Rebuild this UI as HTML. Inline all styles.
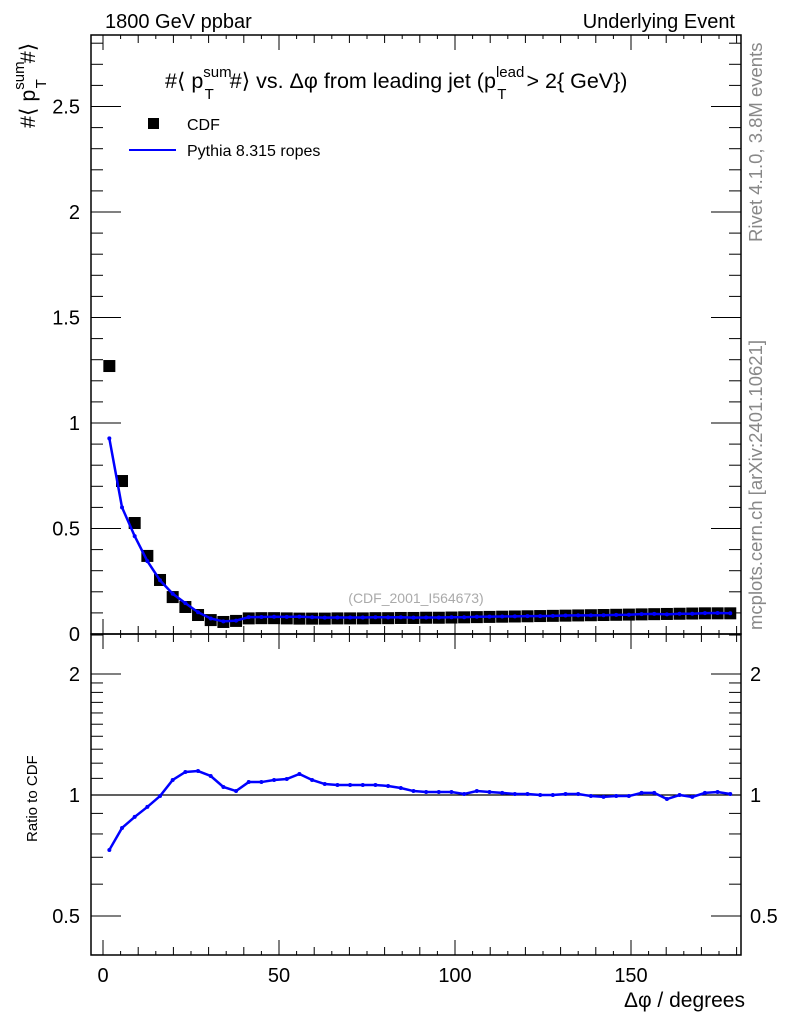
<!DOCTYPE html>
<html><head><meta charset="utf-8"><style>
body{margin:0;background:#fff}
svg{display:block;font-family:"Liberation Sans",sans-serif}
</style></head><body>
<svg id="c" width="786" height="1024" viewBox="0 0 786 1024">
<g id="axes"></g>
<g id="marks"></g>
<text x="105" y="28" font-size="20">1800 GeV ppbar</text>
<text x="735" y="28" font-size="20" text-anchor="end">Underlying Event</text>
<text x="165" y="88" font-size="21.5">#⟨ p<tspan font-size="15" dy="-11">sum</tspan><tspan font-size="15" dx="-27" dy="22">T</tspan><tspan dx="16" dy="-11">#⟩ vs. Δφ from leading jet  (p</tspan><tspan font-size="15" dy="-11">lead</tspan><tspan font-size="15" dx="-27" dy="22">T</tspan><tspan dx="20" dy="-11">&gt; 2{ GeV})</tspan></text>
<text transform="translate(35,128) rotate(-90)" font-size="21.5">#⟨ p<tspan font-size="15" dy="-11">sum</tspan><tspan font-size="15" dx="-27" dy="22">T</tspan><tspan dx="16" dy="-11">#⟩</tspan></text>
<text transform="translate(37,842) rotate(-90)" font-size="15">Ratio to CDF</text>
<text x="745" y="1007" font-size="21" text-anchor="end">Δφ / degrees</text>
<text transform="translate(762,242) rotate(-90)" font-size="18.5" fill="#888">Rivet 4.1.0,  3.8M events</text>
<text transform="translate(762,630) rotate(-90)" font-size="18.5" fill="#888">mcplots.cern.ch [arXiv:2401.10621]</text>
<text x="416" y="603" font-size="14" fill="#aaa" text-anchor="middle">(CDF_2001_I564673)</text>
<rect x="148" y="118" width="11" height="11" fill="#000"/>
<text x="187" y="130" font-size="16">CDF</text>
<line x1="129" y1="150" x2="176" y2="150" stroke="#00f" stroke-width="2"/>
<text x="187" y="156" font-size="16">Pythia 8.315 ropes</text>
</svg>
<script>
const xCenters = [];
for (let i = 0; i < 50; i++) xCenters.push(1.8 + 3.6 * i);
const cdfValues = [1.27,0.725,0.526,0.37,0.256,0.175,0.128,0.09,0.066,0.057,0.062,0.074,0.075,0.075,0.074,0.073,0.073,0.073,0.074,0.074,0.074,0.075,0.075,0.076,0.076,0.077,0.077,0.078,0.079,0.08,0.081,0.082,0.083,0.084,0.085,0.086,0.087,0.088,0.089,0.09,0.091,0.092,0.093,0.094,0.095,0.096,0.097,0.098,0.098,0.098];
const ratioYpix = [850,828,817,807,796,780,772,771,776,787,791,782,782,780,779,774,780,784,785,785,785,785,786,788,791,792,792,792,794,791,792,793,794,794,795,795,794,794,796,797,796,796,793,793,799,795,797,793,792,794];
const ratioValues = ratioYpix.map(y => +Math.pow(2,(795-y)/121).toFixed(3));
const mainYTicks = ["0","0.5","1","1.5","2","2.5"];
const ratioYTicks = ["0.5","1","2"];
const xTicks = ["0","50","100","150"];

const L=91,R=741,T=35,M=634,B=955;
const xs = v => 103 + v*3.52;
const ym = v => 634 - v*211;
const yr = v => 795 - 121*Math.log2(v);
const NS="http://www.w3.org/2000/svg";
const ax=document.getElementById('axes'), mk=document.getElementById('marks');
function el(tag,attrs,parent){const e=document.createElementNS(NS,tag);for(const k in attrs)e.setAttribute(k,attrs[k]);parent.appendChild(e);return e;}
function ln(x1,y1,x2,y2,p,w){return el('line',{x1,y1,x2,y2,stroke:'#000','stroke-width':w||1},p);}
let f=el('rect',{x:L,y:T,width:R-L,height:M-T,fill:'none',stroke:'#000','stroke-width':1.5},ax);


f=el('rect',{x:L,y:M,width:R-L,height:B-M,fill:'none',stroke:'#000','stroke-width':1.5},ax);


for(let d=0;d<=180;d+=5){const x=xs(d);if(x>R)break;const len=d%50===0?15:(d%10===0?8:4);
 [[M,-1],[T,1],[B,-1],[M,1]].forEach(([y,s])=>ln(x,y,x,y+s*len,ax));}
xTicks.forEach(t=>{const e=el('text',{x:xs(+t),y:982,'font-size':20,'text-anchor':'middle'},ax);e.textContent=t;
 
 });
for(let i=0;i<=28;i++){const v=i/10,y=ym(v);if(y<T)break;const len=i%5===0?30:12;ln(L,y,L+len,y,ax);ln(R,y,R-len,y,ax);}
mainYTicks.forEach(t=>{const e=el('text',{x:80,y:ym(+t)+7,'font-size':20,'text-anchor':'end'},ax);e.textContent=t;
 
 });
[0.4,0.5,0.6,0.7,0.8,0.9,1,1.1,1.2,1.3,1.4,1.5,1.6,1.7,1.8,1.9,2,2.5].forEach(v=>{const y=yr(v);if(y<M||y>B)return;const len=(v===0.5||v===1||v===2)?30:12;ln(L,y,L+len,y,ax);ln(R,y,R-len,y,ax);});
ratioYTicks.forEach(t=>{const y=yr(+t)+7;
 let e=el('text',{x:80,y,'font-size':20,'text-anchor':'end'},ax);e.textContent=t;
 
 
 e=el('text',{x:750,y,'font-size':20},ax);e.textContent=t;
 
 });
let ref=ln(L,yr(1),R,yr(1),ax,1.2);


const pythia = cdfValues.map((c,i)=>c*ratioValues[i]);
cdfValues.forEach((v,i)=>{const r=el('rect',{x:xs(xCenters[i])-6,y:ym(v)-6,width:12,height:12,fill:'#000'},mk);
 
 });
let p=el('polyline',{points:pythia.map((v,i)=>xs(xCenters[i])+','+ym(v)).join(' '),fill:'none',stroke:'#00f','stroke-width':2.5},mk);


pythia.forEach((v,i)=>{const c=el('circle',{cx:xs(xCenters[i]),cy:ym(v),r:2,fill:'#00f'},mk);
 
 });
p=el('polyline',{points:ratioValues.map((v,i)=>xs(xCenters[i])+','+yr(v)).join(' '),fill:'none',stroke:'#00f','stroke-width':2.5},mk);


ratioValues.forEach((v,i)=>{const c=el('circle',{cx:xs(xCenters[i]),cy:yr(v),r:2,fill:'#00f'},mk);
 
 });
</script>
</body></html>
